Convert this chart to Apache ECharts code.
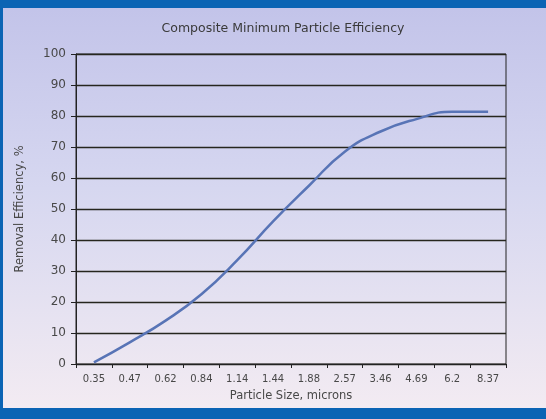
<!DOCTYPE html>
<html><head><meta charset="utf-8">
<script src="https://cdn.jsdelivr.net/npm/echarts@6/dist/echarts.min.js"></script>
<style>html,body{margin:0;padding:0;}#c{width:546px;height:419px;}</style>
</head><body><div id="c"></div>
<script>
const categories = ['0.35','0.47','0.62','0.84','1.14','1.44','1.88','2.57','3.46','4.69','6.2','8.37'];
const efficiency = [0.5, 7, 14, 22.5, 33.5, 46, 57.5, 68.5, 75, 79, 81.4, 81.4];
const yTicks = [0,10,20,30,40,50,60,70,80,90,100];

const chart = echarts.init(document.getElementById('c'));
const font = 'DejaVu Sans, sans-serif';
chart.setOption({
  animation: false,
  backgroundColor: {type:'linear', x:0, y:0, x2:0, y2:1, colorStops:[
    {offset:0, color:'#c2c3e9'}, {offset:0.45, color:'#d6d7f0'}, {offset:1, color:'#f4ecf2'}]},
  graphic: [
    {type:'rect', shape:{x:0,y:0,width:546,height:8}, style:{fill:'#0b64b4'}},
    {type:'rect', shape:{x:0,y:408,width:546,height:11}, style:{fill:'#0b64b4'}},
    {type:'rect', shape:{x:0,y:0,width:3,height:419}, style:{fill:'#0b64b4'}}
  ],
  title: {text:'Composite Minimum Particle Efficiency', left:278, textAlign:'center', top:17,
    textStyle:{fontFamily:font, fontSize:12.5, fontWeight:'normal', color:'#3a3a3a'}},
  grid: {left:76, right:40, top:54, bottom:55, show:true, borderColor:'#222', borderWidth:1, backgroundColor:'transparent'},
  xAxis: {type:'category', data:categories, boundaryGap:true,
    name:'Particle Size, microns', nameLocation:'middle', nameGap:26,
    nameTextStyle:{fontFamily:font, fontSize:11.5, color:'#484848'},
    axisLine:{lineStyle:{color:'#222', width:1}},
    axisTick:{show:true, length:4, lineStyle:{color:'#222'}},
    axisLabel:{fontFamily:font, fontSize:10, color:'#484848', margin:10}},
  yAxis: {type:'value', min:0, max:100, interval:10,
    name:'Removal Efficiency, %', nameLocation:'middle', nameGap:50, nameRotate:90,
    nameTextStyle:{fontFamily:font, fontSize:11.5, color:'#484848'},
    axisLine:{show:true, lineStyle:{color:'#222', width:1}},
    axisTick:{show:true, length:5, lineStyle:{color:'#222'}},
    axisLabel:{fontFamily:font, fontSize:12, color:'#484848', margin:10,
      formatter: v => yTicks.includes(v) ? String(v) : ''},
    splitLine:{show:true, lineStyle:{color:'#26261e', width:1.3}}},
  series: [{type:'line', data:efficiency, smooth:0.5, showSymbol:false,
    lineStyle:{color:'#5874b6', width:2.5}}]
});
</script></body></html>
